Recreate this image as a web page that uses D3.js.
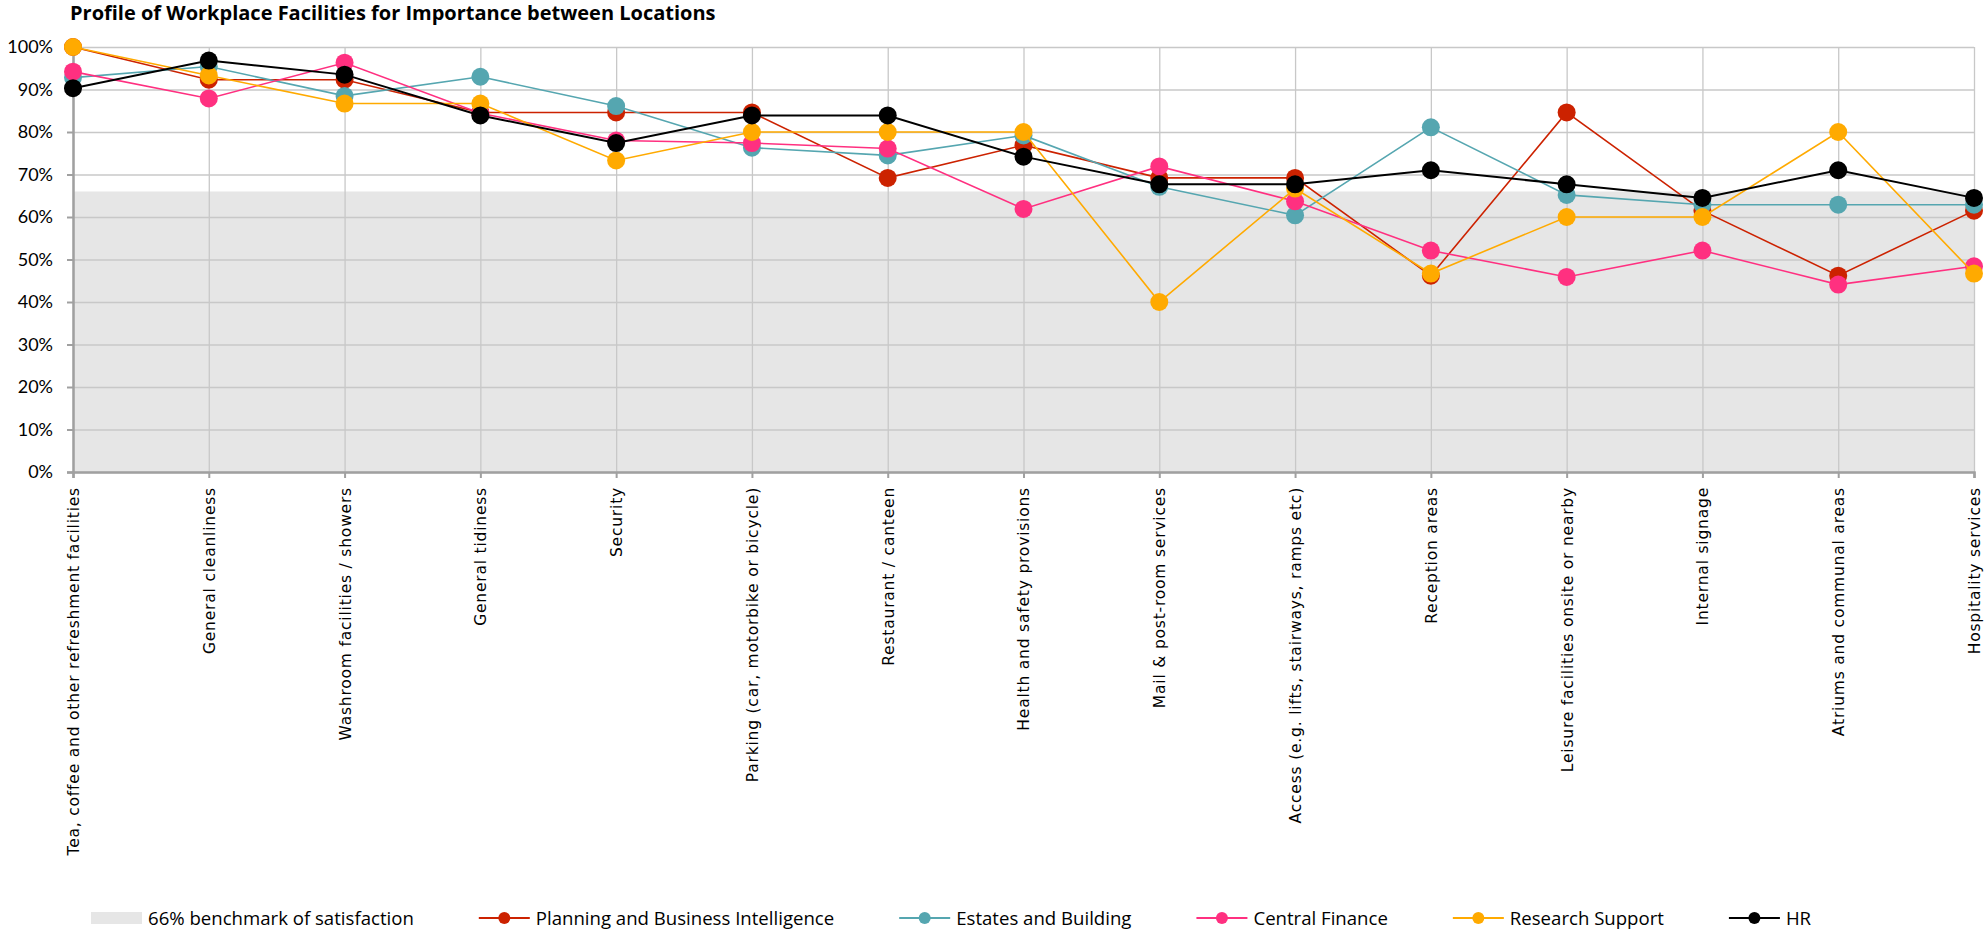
<!DOCTYPE html>
<html>
<head>
<meta charset="utf-8">
<title>Profile of Workplace Facilities</title>
<script src="https://cdn.jsdelivr.net/npm/d3@7"></script>
<style>
    body { margin: 0; background: #fff; }
    #chart-area { width: 1984px; height: 930px; }
</style>
</head>
<body>
<div id="chart-area"></div>
<script>
// categories on the x axis
const categories = [
    "Tea, coffee and other refreshment facilities",
    "General cleanliness",
    "Washroom facilities / showers",
    "General tidiness",
    "Security",
    "Parking (car, motorbike or bicycle)",
    "Restaurant / canteen",
    "Health and safety provisions",
    "Mail & post-room services",
    "Access (e.g. lifts, stairways, ramps etc)",
    "Reception areas",
    "Leisure facilities onsite or nearby",
    "Internal signage",
    "Atriums and communal areas",
    "Hospitality services"
];

// values in %
const planning = [100, 92.3, 92.3, 84.6, 84.6, 84.6, 69.2, 76.9, 69.2, 69.2, 46.2, 84.6, 61.5, 46.2, 61.5];
const estates = [92.8, 95.4, 88.5, 93.0, 86.1, 76.3, 74.5, 79.2, 67.1, 60.4, 81.1, 65.2, 62.9, 62.9, 62.9];
const finance = [94.2, 87.9, 96.3, 84.4, 78.0, 77.4, 76.1, 61.9, 71.9, 63.7, 52.1, 45.9, 52.1, 44.1, 48.4];
const research = [100, 93.3, 86.7, 86.7, 73.3, 80, 80, 80, 40, 66.7, 46.7, 60, 60, 80, 46.7];
const hr = [90.3, 96.8, 93.5, 83.9, 77.4, 83.9, 83.9, 74.2, 67.7, 67.7, 71.0, 67.7, 64.5, 71.0, 64.5];

const benchmark = 66;
const yTicks = [0, 10, 20, 30, 40, 50, 60, 70, 80, 90, 100];

const seriesNames = ["Planning and Business Intelligence", "Estates and Building", "Central Finance", "Research Support", "HR"];
const seriesValues = [planning, estates, finance, research, hr];
const seriesColors = ["#cc2200", "#55a6b0", "#ff3080", "#ffaa00", "#000000"];

class FacilitiesChart {

    constructor(parentElement) {
        this.parentElement = parentElement;
        this.initVis();
    }

    initVis() {
        let vis = this;

        vis.margin = {top: 47, right: 10, bottom: 458, left: 73};
        vis.width = 1984 - vis.margin.left - vis.margin.right;
        vis.height = 930 - vis.margin.top - vis.margin.bottom;

        vis.svg = d3.select("#" + vis.parentElement).append("svg")
            .attr("width", 1984)
            .attr("height", 930);

        // title
        vis.svg.append("text")
            .attr("x", 70)
            .attr("y", 20)
            .style("font-family", "'Open Sans', sans-serif")
            .style("font-weight", "bold")
            .style("font-size", "20px")
            .text("Profile of Workplace Facilities for Importance between Locations");

        vis.g = vis.svg.append("g")
            .attr("transform", `translate(${vis.margin.left},${vis.margin.top})`);

        vis.x = d3.scalePoint().domain(categories).range([0, vis.width]);
        vis.y = d3.scaleLinear().domain([0, 100]).range([vis.height, 0]);

        // 66% benchmark band
        vis.g.append("rect")
            .attr("x", 0)
            .attr("y", vis.y(benchmark))
            .attr("width", vis.width)
            .attr("height", vis.y(0) - vis.y(benchmark))
            .attr("fill", "#e6e6e6");

        // gridlines
        vis.g.append("g")
            .attr("class", "grid")
            .call(d3.axisLeft(vis.y).tickValues(yTicks).tickSize(-vis.width).tickFormat(""))
            .call(g => g.select(".domain").remove())
            .selectAll("line").attr("stroke", "#c8c8c8").attr("stroke-width", 1.3);

        vis.g.append("g")
            .attr("class", "grid")
            .attr("transform", `translate(0,${vis.height})`)
            .call(d3.axisBottom(vis.x).tickSize(-vis.height).tickFormat(""))
            .call(g => g.select(".domain").remove())
            .selectAll("line").attr("stroke", "#c8c8c8").attr("stroke-width", 1.3);

        // y axis
        vis.yAxis = vis.g.append("g")
            .call(d3.axisLeft(vis.y).tickValues(yTicks).tickSizeOuter(0).tickSize(6).tickPadding(14)
                .tickFormat(d => d + "%"));
        vis.yAxis.selectAll("text")
            .style("font-family", "Lato, sans-serif")
            .style("font-size", "18px")
            .attr("fill", "#000");

        // x axis
        vis.xAxis = vis.g.append("g")
            .attr("transform", `translate(0,${vis.height})`)
            .call(d3.axisBottom(vis.x).tickSizeOuter(0).tickSize(6));
        vis.xAxis.selectAll("text")
            .attr("transform", "rotate(-90)")
            .attr("x", -15)
            .attr("y", 0)
            .attr("dy", "0.35em")
            .style("text-anchor", "end")
            .style("font-family", "'DejaVu Sans', sans-serif")
            .style("font-size", "15.5px")
            .style("letter-spacing", "0.8px")
            .attr("fill", "#000");

        [vis.yAxis, vis.xAxis].forEach(a => {
            a.select(".domain").attr("stroke", "#a0a0a0").attr("stroke-width", 2.5);
            a.selectAll(".tick line").attr("stroke", "#a0a0a0").attr("stroke-width", 2);
        });

        vis.wrangleData();
    }

    wrangleData() {
        let vis = this;

        vis.displayData = seriesNames.map((name, i) => ({
            name: name,
            color: seriesColors[i],
            values: categories.map((c, j) => ({category: c, value: seriesValues[i][j]}))
        }));

        vis.updateVis();
    }

    updateVis() {
        let vis = this;

        let line = d3.line()
            .x(d => vis.x(d.category))
            .y(d => vis.y(d.value));

        // each series draws its line then its markers, like the original
        let series = vis.g.selectAll(".series")
            .data(vis.displayData)
            .enter().append("g")
            .attr("class", "series");

        series.append("path")
            .attr("d", d => line(d.values))
            .attr("fill", "none")
            .attr("stroke", d => d.color)
            .attr("stroke-width", d => d.name === "HR" ? 2 : 1.6);

        series.selectAll("circle")
            .data(d => d.values.map(v => ({...v, color: d.color})))
            .enter().append("circle")
            .attr("cx", d => vis.x(d.category))
            .attr("cy", d => vis.y(d.value))
            .attr("r", 9)
            .attr("fill", d => d.color);

        // legend
        let legendItems = [{name: "66% benchmark of satisfaction", color: "#e6e6e6", band: true}]
            .concat(vis.displayData.map(d => ({name: d.name, color: d.color, band: false})));

        let legend = vis.svg.append("g")
            .attr("class", "legend")
            .attr("transform", "translate(0,918)");

        let lx = 91;
        legendItems.forEach(item => {
            let g = legend.append("g").attr("transform", `translate(${lx},0)`);
            if (item.band) {
                g.append("rect")
                    .attr("x", 0).attr("y", -6)
                    .attr("width", 51).attr("height", 12)
                    .attr("fill", item.color);
            } else {
                g.append("line")
                    .attr("x1", 0).attr("x2", 51)
                    .attr("stroke", item.color)
                    .attr("stroke-width", 2);
                g.append("circle")
                    .attr("cx", 25.5)
                    .attr("r", 6)
                    .attr("fill", item.color);
            }
            let t = g.append("text")
                .attr("x", 57)
                .attr("dy", "0.35em")
                .style("font-family", "'Open Sans', sans-serif")
                .style("font-size", "18.6px")
                .text(item.name);
            lx += 57 + t.node().getComputedTextLength() + 65;
        });
    }
}

new FacilitiesChart("chart-area");
</script>
</body>
</html>
